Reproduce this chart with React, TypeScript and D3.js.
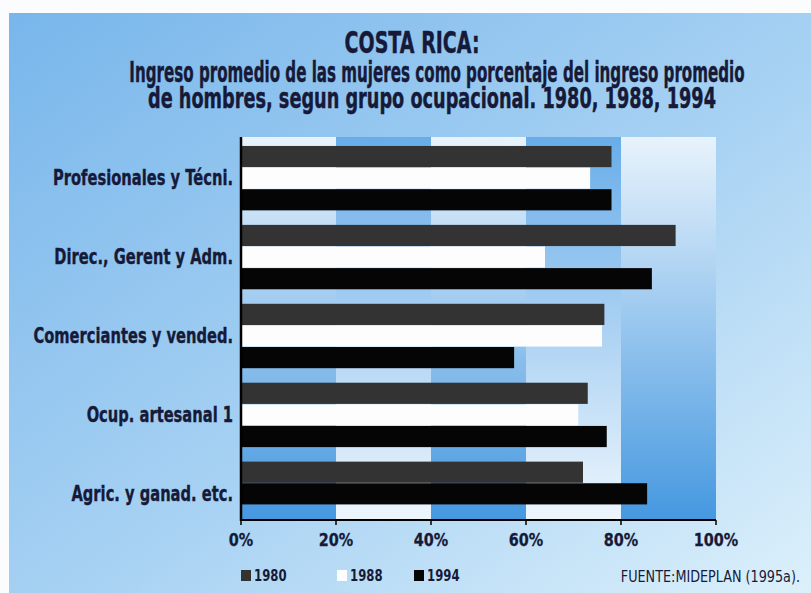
import React, { useEffect, useLayoutEffect, useRef, useState } from "react";
import * as d3 from "d3";

// occupational groups, top to bottom
const categories = [
  "Profesionales y Técni.",
  "Direc., Gerent y Adm.",
  "Comerciantes y vended.",
  "Ocup. artesanal 1",
  "Agric. y ganad. etc.",
];
const years = ["1980", "1988", "1994"];
// women's income as % of men's income
const values1980 = [78, 91.5, 76.5, 73, 72];
const values1988: (number | null)[] = [73.5, 64, 76, 71, null];
const values1994 = [78, 86.5, 57.5, 77, 85.5];
const xTicks = [0, 20, 40, 60, 80, 100];

const titleLines = [
  "COSTA RICA:",
  "Ingreso promedio de las mujeres como porcentaje del ingreso promedio",
  "de hombres, segun grupo ocupacional. 1980, 1988, 1994",
];
const source = "FUENTE:MIDEPLAN (1995a).";

const W = 811;
const H = 593;
const FONT = "'DejaVu Sans', 'Liberation Sans', sans-serif";
const INK = "#161a38";
const barColors = ["#333333", "#fdfdfd", "#050505"];

// no condensed font available, so squeeze glyphs horizontally
function Cond({ x, y, sx = 0.8, anchor = "start", size, bold = true, heavy = 0, children }: any) {
  return (
    <text
      transform={`translate(${x},${y}) scale(${sx},1)`}
      fontSize={size}
      fontWeight={bold ? "bold" : "normal"}
      fill={INK}
      stroke={heavy ? INK : "none"}
      strokeWidth={heavy}
      textAnchor={anchor}
    >
      {children}
    </text>
  );
}

// title lines: centre x, baseline, font size, wanted width
const titleSpec = [
  { cx: 412, y: 53, size: 31, w: 135 },
  { cx: 437, y: 82, size: 28, w: 615 },
  { cx: 432, y: 108, size: 28, w: 568 },
];

export default function App() {
  const titleRef = useRef<SVGGElement>(null);
  const [titleScale, setTitleScale] = useState<number[]>([0.7, 0.55, 0.55]);

  useEffect(() => {
    document.body.style.margin = "0";
  }, []);

  // measure the natural width of each title line and squeeze it to fit
  useLayoutEffect(() => {
    if (!titleRef.current) return;
    const nodes = titleRef.current.querySelectorAll("text");
    const s = Array.from(nodes).map((n, i) => {
      const len = (n as SVGTextElement).getComputedTextLength();
      return len > 0 ? titleSpec[i].w / len : titleScale[i];
    });
    setTitleScale(s);
  }, []);

  const plotTop = 137;
  const plotBottom = 520;

  const x = d3.scaleLinear().domain([0, 100]).range([241, 716]);
  const y = d3
    .scaleBand<string>()
    .domain(categories)
    .range([138, 534])
    .paddingInner(0.184)
    .paddingOuter(0.101);

  const series = [values1980, values1988, values1994];

  const bars: { key: string; x0: number; x1: number; y0: number; h: number; fill: string }[] = [];
  categories.forEach((cat, i) => {
    const present = years
      .map((yr, s) => ({ yr, s, v: series[s][i] }))
      .filter((d) => d.v != null) as { yr: string; s: number; v: number }[];
    const inner = d3
      .scaleBand<number>()
      .domain([0, 1, 2])
      .range([y(cat)!, y(cat)! + y.bandwidth()])
      .paddingInner(0.02);
    present.forEach((d, k) => {
      bars.push({
        key: cat + d.yr,
        x0: x(0),
        x1: x(d.v),
        y0: inner(k)!,
        h: inner.bandwidth(),
        fill: barColors[d.s],
      });
    });
  });

  const columns = d3.pairs(xTicks);

  return (
    <svg width={W} height={H} style={{ display: "block", fontFamily: FONT }}>
      <defs>
        <linearGradient id="bg" x1="0" y1="0" x2="1" y2="1">
          <stop offset="0" stopColor="#78b6eb" />
          <stop offset="0.55" stopColor="#a8d2f3" />
          <stop offset="1" stopColor="#dcf0fb" />
        </linearGradient>
        <linearGradient id="colA" x1="0" y1="0" x2="0" y2="1">
          <stop offset="0" stopColor="#e8f3fc" />
          <stop offset="1" stopColor="#4598e0" />
        </linearGradient>
        <linearGradient id="colB" x1="0" y1="0" x2="0" y2="1">
          <stop offset="0" stopColor="#68ade9" />
          <stop offset="1" stopColor="#eef6fd" />
        </linearGradient>
      </defs>

      <rect width={W} height={H} fill="#fafcfd" />
      <rect x={9} y={13} width={W - 9} height={H - 13} fill="url(#bg)" />

      {/* title */}
      <g ref={titleRef} fill={INK} stroke={INK} strokeWidth={0.5} fontWeight="bold" textAnchor="middle">
        {titleLines.map((line, i) => (
          <text
            key={i}
            transform={`translate(${titleSpec[i].cx},${titleSpec[i].y}) scale(${titleScale[i]},1)`}
            fontSize={titleSpec[i].size}
          >
            {line}
          </text>
        ))}
      </g>

      {/* alternating column bands */}
      {columns.map(([a, b], i) => (
        <rect
          key={a}
          x={x(a)}
          y={plotTop}
          width={x(b) - x(a)}
          height={plotBottom - plotTop}
          fill={i % 2 === 0 ? "url(#colA)" : "url(#colB)"}
        />
      ))}

      {bars.map((b) => (
        <rect key={b.key} x={b.x0} y={b.y0} width={b.x1 - b.x0} height={b.h} fill={b.fill} />
      ))}

      {/* axes */}
      <line x1={x(0)} x2={x(0)} y1={plotTop} y2={plotBottom + 1} stroke="#000" strokeWidth={2.5} />
      <line x1={x(0)} x2={x(100)} y1={plotBottom} y2={plotBottom} stroke="#000" strokeWidth={2} />
      {xTicks.map((t) => (
        <g key={t}>
          <line x1={x(t)} x2={x(t)} y1={plotBottom} y2={plotBottom + 5} stroke="#000" strokeWidth={1.5} />
          <Cond x={x(t)} y={546} size={18} sx={0.8} anchor="middle" heavy={0.3}>
            {t}%
          </Cond>
        </g>
      ))}

      {/* category labels */}
      {categories.map((c) => (
        <Cond key={c} x={233} y={y(c)! + y.bandwidth() / 2 + 7} size={21} sx={0.7} anchor="end" heavy={0.4}>
          {c}
        </Cond>
      ))}

      {/* legend */}
      {years.map((yr, i) => {
        const lx = [241, 337, 414][i];
        return (
          <g key={yr}>
            <rect x={lx} y={570} width={10} height={11} fill={barColors[i]} />
            <Cond x={lx + 13} y={581} size={15} sx={0.78}>
              {yr}
            </Cond>
          </g>
        );
      })}
      <Cond x={800} y={582} size={16} sx={0.8} bold={false} anchor="end">
        {source}
      </Cond>
    </svg>
  );
}
